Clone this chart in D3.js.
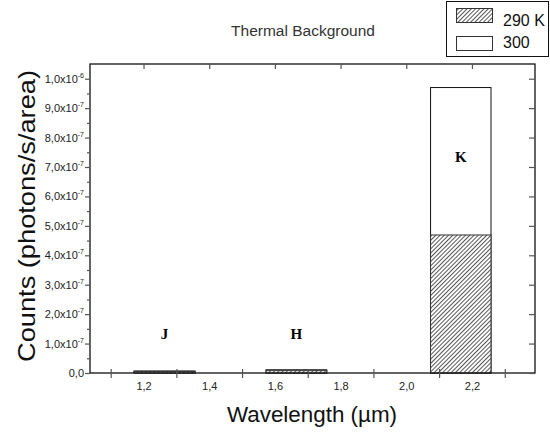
<!DOCTYPE html>
<html>
<head>
<meta charset="utf-8">
<script src="https://cdn.jsdelivr.net/npm/d3@7"></script>
<style>
  body { margin: 0; background: #fff; }
  svg { display: block; font-family: Arial, "Liberation Sans", sans-serif; }
</style>
</head>
<body>
<div id="chart"></div>
<script>
// bands and their wavelength edges (um)
var bands = ["J", "H", "K"];
var bandStart = [1.171, 1.573, 2.074];
var bandEnd = [1.357, 1.758, 2.258];
// counts (photons/s/area) per temperature
var counts290 = [5e-9, 8e-9, 4.69e-7];
var counts300 = [7e-9, 1.1e-8, 9.70e-7];
var seriesNames = ["290 K", "300"];
// tick labels
var xLabelVals = [1.2, 1.4, 1.6, 1.8, 2.0, 2.2];
var xTickVals = [1.1, 1.3, 1.5, 1.7, 1.9, 2.1, 2.3];
var yMajor = [0, 1e-7, 2e-7, 3e-7, 4e-7, 5e-7, 6e-7, 7e-7, 8e-7, 9e-7, 1e-6];
var yMinor = [0.5e-7, 1.5e-7, 2.5e-7, 3.5e-7, 4.5e-7, 5.5e-7, 6.5e-7, 7.5e-7, 8.5e-7, 9.5e-7];

var W = 550, H = 433;
var pLeft = 90, pRight = 535, pTop = 64, pBottom = 373;

var svg = d3.select("#chart").append("svg").attr("width", W).attr("height", H);

var defs = svg.append("defs");
var pat = defs.append("pattern").attr("id", "hatch").attr("patternUnits", "userSpaceOnUse")
  .attr("width", 3).attr("height", 3).attr("patternTransform", "rotate(45)");
pat.append("rect").attr("width", 3).attr("height", 3).attr("fill", "#fff");
pat.append("line").attr("x1", 0.5).attr("y1", 0).attr("x2", 0.5).attr("y2", 3)
  .attr("stroke", "#444").attr("stroke-width", 0.9);

var x = d3.scaleLinear().domain([1.037, 2.392]).range([pLeft, pRight]);
var y = d3.scaleLinear().domain([0, 1.05e-6]).range([pBottom, pTop]);

// bars: 300 behind, 290 K in front
var g = svg.append("g");
g.selectAll("rect.b300").data(bands).enter().append("rect").attr("class", "b300")
  .attr("x", function(d, i) { return x(bandStart[i]); })
  .attr("width", function(d, i) { return x(bandEnd[i]) - x(bandStart[i]); })
  .attr("y", function(d, i) { return y(counts300[i]); })
  .attr("height", function(d, i) { return y(0) - y(counts300[i]); })
  .attr("fill", "#fff").attr("stroke", "#111").attr("stroke-width", 1);
g.selectAll("rect.b290").data(bands).enter().append("rect").attr("class", "b290")
  .attr("x", function(d, i) { return x(bandStart[i]); })
  .attr("width", function(d, i) { return x(bandEnd[i]) - x(bandStart[i]); })
  .attr("y", function(d, i) { return y(counts290[i]); })
  .attr("height", function(d, i) { return y(0) - y(counts290[i]); })
  .attr("fill", "url(#hatch)").attr("stroke", "#333").attr("stroke-width", 1);

// band letters
var letterY = [339, 339, 162];
g.selectAll("text.band").data(bands).enter().append("text").attr("class", "band")
  .attr("x", function(d, i) { return x((bandStart[i] + bandEnd[i]) / 2); })
  .attr("y", function(d, i) { return letterY[i]; })
  .attr("text-anchor", "middle")
  .style("font-family", "'Liberation Serif', 'Times New Roman', serif")
  .style("font-weight", "bold").style("font-size", "15px")
  .text(function(d) { return d; });

// frame
svg.append("rect").attr("x", pLeft).attr("y", pTop).attr("width", pRight - pLeft).attr("height", pBottom - pTop)
  .attr("fill", "none").attr("stroke", "#111").attr("stroke-width", 1.3);

function styleAxis(sel) {
  sel.select(".domain").remove();
  sel.selectAll(".tick line").attr("stroke", "#555").attr("stroke-width", 1.2);
}

// left axis ticks
svg.append("g").attr("transform", "translate(" + pLeft + ",0)")
  .call(d3.axisLeft(y).tickValues(yMajor).tickSize(5).tickFormat(""))
  .call(styleAxis);
svg.append("g").attr("transform", "translate(" + pLeft + ",0)")
  .call(d3.axisLeft(y).tickValues(yMinor).tickSize(3).tickFormat(""))
  .call(styleAxis);
// right axis ticks (inward)
svg.append("g").attr("transform", "translate(" + pRight + ",0)")
  .call(d3.axisLeft(y).tickValues(yMajor).tickSize(6).tickFormat(""))
  .call(styleAxis);
// top axis ticks (inward)
svg.append("g").attr("transform", "translate(0," + pTop + ")")
  .call(d3.axisBottom(x).tickValues(xLabelVals).tickSize(5).tickFormat(""))
  .call(styleAxis);
// bottom axis ticks (crossing)
var bx = svg.append("g").attr("transform", "translate(0," + pBottom + ")")
  .call(d3.axisBottom(x).tickValues(xTickVals).tickSize(5).tickFormat(""))
  .call(styleAxis);
bx.selectAll(".tick line").attr("y1", -4);
// bottom labels
var bl = svg.append("g").attr("transform", "translate(0," + pBottom + ")")
  .call(d3.axisBottom(x).tickValues(xLabelVals).tickSize(0).tickPadding(9)
    .tickFormat(function(d) { return d3.format(".1f")(d).replace(".", ","); }));
bl.select(".domain").remove();
bl.selectAll("text").style("font-family", "Arial, 'Liberation Sans', sans-serif")
  .style("font-size", "11px").attr("fill", "#222");

// y labels with superscript exponents
var yl = svg.append("g");
yMajor.forEach(function(v) {
  var t = yl.append("text").attr("x", pLeft - 6).attr("y", y(v) + 4)
    .attr("text-anchor", "end").attr("fill", "#222").style("font-size", "11px");
  if (v === 0) { t.text("0,0"); return; }
  var e = Math.floor(Math.log10(v) + 1e-9);
  var m = v / Math.pow(10, e);
  t.append("tspan").text(d3.format(".1f")(m).replace(".", ",") + "x10");
  t.append("tspan").attr("dy", -5).style("font-size", "7px").text(e);
});

// title
svg.append("text").attr("x", 303).attr("y", 36).attr("text-anchor", "middle")
  .attr("fill", "#333").style("font-size", "15.5px").text("Thermal Background");

// axis titles
svg.append("text").attr("x", 312).attr("y", 422).attr("text-anchor", "middle")
  .attr("fill", "#111").style("font-size", "22px")
  .attr("textLength", 170).attr("lengthAdjust", "spacingAndGlyphs")
  .text("Wavelength (\u00b5m)");
svg.append("text").attr("transform", "translate(35,216) rotate(-90)")
  .attr("text-anchor", "middle").attr("fill", "#111").style("font-size", "24px")
  .attr("textLength", 292).attr("lengthAdjust", "spacingAndGlyphs")
  .text("Counts (photons/s/area)");

// legend
var lg = svg.append("g");
lg.append("rect").attr("x", 446.5).attr("y", 1.5).attr("width", 102).attr("height", 55)
  .attr("fill", "#fff").attr("stroke", "#111").attr("stroke-width", 1);
var swatchFill = ["url(#hatch)", "#fff"];
seriesNames.forEach(function(name, i) {
  lg.append("rect").attr("x", 456.5).attr("y", 8.5 + i * 28).attr("width", 36).attr("height", 14)
    .attr("fill", swatchFill[i]).attr("stroke", "#333").attr("stroke-width", 1);
  lg.append("text").attr("x", 503).attr("y", 26 + i * 22).attr("fill", "#111")
    .style("font-size", "16px").text(name);
});
</script>
</body>
</html>
